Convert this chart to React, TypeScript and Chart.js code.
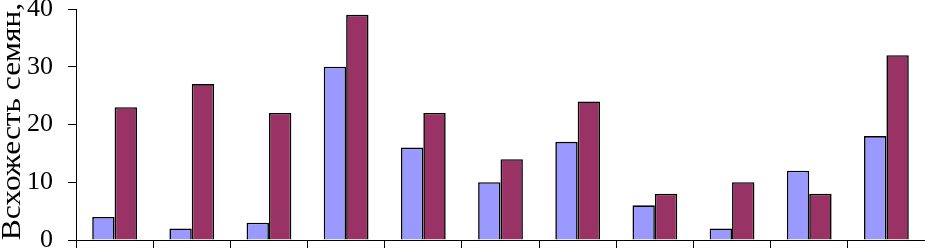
import React, { useEffect, useRef } from "react";
import { Chart, registerables } from "chart.js";

Chart.register(...registerables);

const categories = ["1", "2", "3", "4", "5", "6", "7", "8", "9", "10", "11"];
const series1 = [4, 2, 3, 30, 16, 10, 17, 6, 2, 12, 18];
const series2 = [23, 27, 22, 39, 22, 14, 24, 8, 10, 8, 32];
const yTitle = "Всхожесть семян,";

const SERIF = "'Liberation Serif', 'Times New Roman', serif";

// Draws the y-axis title next to the y scale, slightly stretched along its reading direction.
const yTitlePlugin = {
  id: "yTitleStretched",
  afterDraw(chart: any) {
    const s = chart.scales.y;
    const ctx = chart.ctx as CanvasRenderingContext2D;
    ctx.save();
    ctx.font = `27px ${SERIF}`;
    ctx.fillStyle = "#000000";
    ctx.textAlign = "center";
    ctx.textBaseline = "middle";
    ctx.translate(s.left + 12.5, (s.top + s.bottom) / 2 - 3);
    ctx.rotate(-Math.PI / 2);
    ctx.scale(1.165, 1);
    ctx.fillText(yTitle, 0, 0);
    ctx.restore();
  },
};

export default function App() {
  const ref = useRef<HTMLCanvasElement | null>(null);
  useEffect(() => {
    document.body.style.margin = "0";
    const ctx = ref.current;
    if (!ctx) return;
    const chart = new Chart(ctx, {
      type: "bar",
      data: {
        labels: categories,
        datasets: [
          {
            label: "1",
            data: series1,
            backgroundColor: "#9999FF",
            borderColor: "#000000",
            borderWidth: 1.6,
          },
          {
            label: "2",
            data: series2,
            backgroundColor: "#993366",
            borderColor: "#000000",
            borderWidth: 1.6,
          },
        ],
      },
      plugins: [yTitlePlugin],
      options: {
        animation: false,
        responsive: false,
        maintainAspectRatio: false,
        layout: { padding: 0 },
        datasets: { bar: { barPercentage: 1, categoryPercentage: 0.58 } },
        plugins: {
          legend: { display: false },
          tooltip: { enabled: false },
        },
        scales: {
          x: {
            border: { display: true, color: "#000000", width: 1 },
            grid: {
              display: true,
              drawOnChartArea: false,
              drawTicks: true,
              tickLength: 8,
              color: "#000000",
              offset: true,
            },
            ticks: { display: false },
            afterFit(scale: any) {
              scale.height = 12;
            },
          },
          y: {
            min: 0,
            max: 40,
            border: { display: true, color: "#000000", width: 1 },
            grid: {
              display: true,
              drawOnChartArea: false,
              drawTicks: true,
              tickLength: 8,
              color: "#000000",
            },
            ticks: {
              stepSize: 10,
              color: "#000000",
              padding: 15,
              font: { family: SERIF, size: 26, lineHeight: 1 },
            },
            title: { display: false },
            afterFit(scale: any) {
              scale.width = 76;
              scale.paddingTop = 9;
              scale.paddingBottom = 0;
            },
          },
        },
      },
    });
    return () => chart.destroy();
  }, []);
  return (
    <div style={{ width: 925, height: 252, overflow: "hidden", position: "relative" }}>
      <canvas ref={ref} width={925} height={252} style={{ display: "block" }} />
    </div>
  );
}
